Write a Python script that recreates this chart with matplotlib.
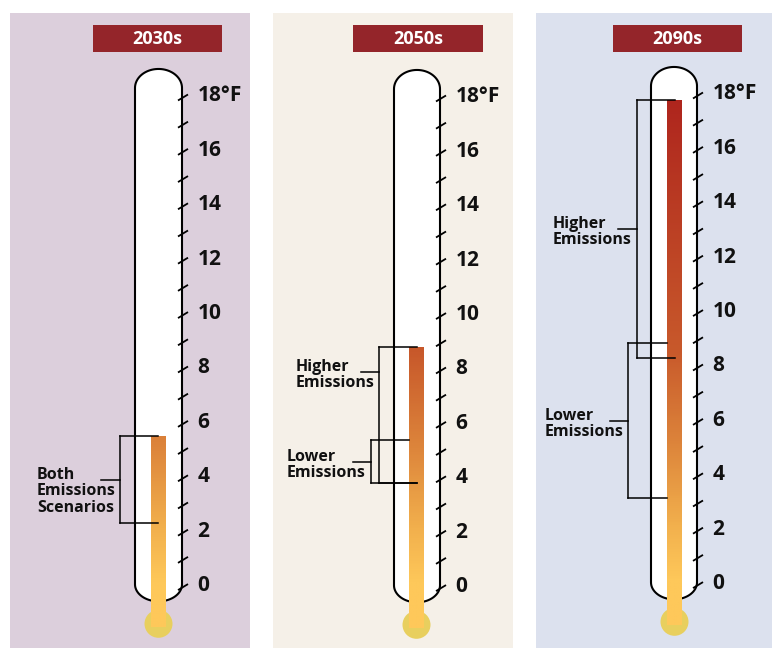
import numpy as np
import matplotlib.pyplot as plt
from matplotlib.patches import Rectangle, Ellipse, Polygon
from matplotlib.colors import LinearSegmentedColormap

plt.rcParams['font.family'] = ['Open Sans', 'DejaVu Sans']

# Chart data.
periods = ['2030s', '2050s', '2090s']
scale_temps = np.arange(0, 19)          # a tick every degree F
label_temps = np.arange(0, 19, 2)       # labelled every 2 degrees
mercury_top = [5.4, 8.7, 17.7]
range_names = [['Both\nEmissions\nScenarios'],
               ['Higher\nEmissions', 'Lower\nEmissions'],
               ['Higher\nEmissions', 'Lower\nEmissions']]
range_low = [[2.2], [3.7, 3.7], [8.2, 3.05]]
range_high = [[5.4], [8.7, 5.3], [17.7, 8.75]]
label_at = [[None], [7.8, None], [None, None]]   # None -> middle of range

# Layout (pixels inside each panel).
W, H = 772, 648
PX = 27.2                                # pixels per degree F
LINE_PX = 16.5                           # line step of the range labels
panel_left = [10, 273, 536]
panel_width = [240, 240, 236]
panel_top = 13
zero_px = [583, 584, 581]
panel_bg = ['#dccfdc', '#f5f0e8', '#dce1ee']
title_x = [(83, 212), (80, 210), (77, 206)]
tube_x = [(125, 172), (121, 167), (115, 161)]
col_x = [(141, 156), (136, 151), (131, 146)]
# vertical x, tick start x, top line end, bottom line end, text x
bracket_x = [[(110, 91, 148, 148, 27)],
             [(106, 88, 144, 144, 23), (98, 80, 136, 144, 14)],
             [(101, 82, 139, 139, 17), (92, 74, 131, 131, 9)]]

cmap = LinearSegmentedColormap.from_list('merc', [
    (0.0, '#fec85a'), (2 / 18, '#f2b04d'), (5 / 18, '#dd853b'),
    (8.5 / 18, '#c8592b'), (1.0, '#ae241d')])

fig = plt.figure(figsize=(W / 100, H / 100), dpi=100)

for i, period in enumerate(periods):
    z = zero_px[i]

    def T(px):
        return (z - px) / PX

    ax = fig.add_axes([panel_left[i] / W, 0, panel_width[i] / W, (H - panel_top) / H])
    ax.set_facecolor(panel_bg[i])
    for s in ax.spines.values():
        s.set_visible(False)
    ax.set_xticks([])
    ax.set_yticks([])

    # title box
    tx0, tx1 = title_x[i]
    ax.add_patch(Rectangle((tx0, T(52)), tx1 - tx0, 27 / PX, fc='#94252a', ec='none'))
    ax.text((tx0 + tx1) / 2, T(38.5), period, color='white', fontsize=13,
            fontweight='bold', ha='center', va='center')

    # tube
    x0, x1 = tube_x[i]
    cx, rx = (x0 + x1) / 2, (x1 - x0) / 2
    top, bot = 18.2, -0.05
    th = np.linspace(np.pi, 0, 40)
    upper = np.column_stack([cx + rx * np.cos(th), top + 19 / PX * np.sin(th)])
    th = np.linspace(0, -np.pi, 40)
    lower = np.column_stack([cx + rx * np.cos(th), bot + 17 / PX * np.sin(th)])
    ax.add_patch(Polygon(np.vstack([upper, lower]), closed=True, fc='white',
                         ec='black', lw=1.5, zorder=1))

    # bulb and mercury column
    c0, c1 = col_x[i]
    ax.add_patch(Ellipse(((c0 + c1) / 2, -1.5), 28, 28 / PX, fc='#e8cf5e',
                         ec='none', zorder=2))
    grad = np.linspace(-1.6, mercury_top[i], 256)[:, None]
    ax.imshow(grad, extent=(c0, c1, -1.6, mercury_top[i]), origin='lower',
              cmap=cmap, vmin=0, vmax=18, aspect='auto', zorder=3)

    # scale ticks and labels
    for t in scale_temps:
        yt = t - 0.15
        ax.plot([x1 - 4, x1 + 6], [yt - 3 / PX, yt + 3 / PX], color='black',
                lw=1.3, zorder=4, solid_capstyle='butt')
    for t in label_temps:
        lab = f'{t}°F' if t == 18 else f'{t}'
        ax.text(x1 + 15.5, t, lab, fontsize=15, fontweight='bold',
                color='#111111', ha='left', va='center_baseline')

    # range brackets
    for j, name in enumerate(range_names[i]):
        lo, hi = range_low[i][j], range_high[i][j]
        vx, kx, etop, ebot, txt_x = bracket_x[i][j]
        mid = label_at[i][j] if label_at[i][j] is not None else (lo + hi) / 2
        kw = dict(color='black', lw=1.1, zorder=5)
        ax.plot([vx, vx], [lo, hi], **kw)
        ax.plot([vx, etop], [hi, hi], **kw)
        ax.plot([vx, ebot], [lo, lo], **kw)
        ax.plot([kx, vx], [mid, mid], **kw)
        for k, line in enumerate(name.split('\n')):
            ax.text(txt_x, mid - (k * LINE_PX - 1) / PX, line, fontsize=11.5,
                    fontweight='bold', color='#111111', ha='left', va='baseline')

    ax.set_xlim(0, panel_width[i])
    ax.set_ylim(T(H), T(panel_top))

fig.savefig('out.png', dpi=100, facecolor='white')
